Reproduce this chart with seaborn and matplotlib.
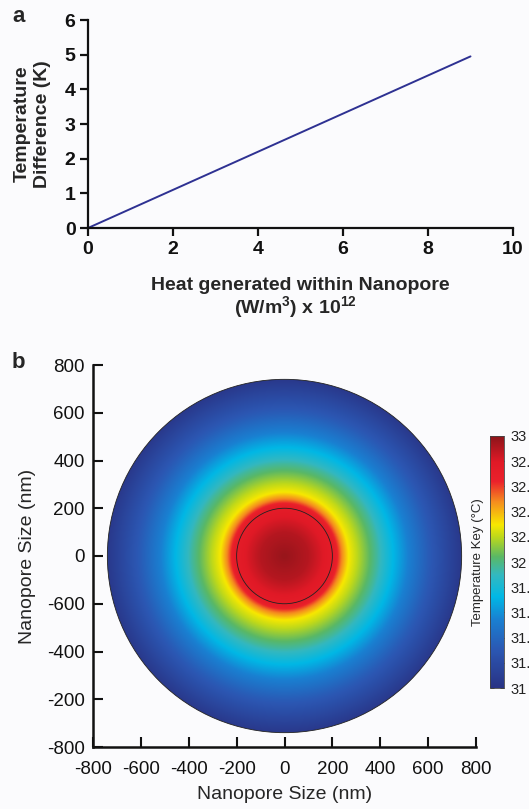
import numpy as np
import matplotlib
matplotlib.use("Agg")
import matplotlib.pyplot as plt
import seaborn as sns
from matplotlib.colors import LinearSegmentedColormap
from matplotlib.patches import Circle

sns.set_theme(style="ticks")
plt.rcParams["font.family"] = ["Liberation Sans", "DejaVu Sans"]
plt.rcParams["mathtext.fontset"] = "custom"
plt.rcParams["mathtext.bf"] = "Liberation Sans:bold"
plt.rcParams["mathtext.rm"] = "Liberation Sans"

# panel a: heat vs temperature difference
HEAT = [0, 1, 2, 3, 4, 5, 6, 7, 8, 9]
TEMP_DIFF = [0, 0.55, 1.1, 1.65, 2.2, 2.75, 3.3, 3.85, 4.4, 4.95]

# panel b: radial temperature profile
RADIUS_NM = [0, 100, 212, 238, 268, 320, 388, 455, 515, 600, 740]
TEMP_C = [32.97, 32.9, 32.72, 32.5, 32.3, 32.15, 31.95, 31.72, 31.55, 31.34, 31.05]
OUTER_R = 740
INNER_R = 200

B_TICKS = [-800, -600, -400, -200, 0, 200, 400, 600, 800]
B_XLABELS = ["-800", "-600", "-400", "-200", "0", "200", "400", "600", "800"]
B_YLABELS = ["-800", "-200", "-400", "-600", "0", "200", "400", "600", "800"]
CB_TICKS = [31, 31.2, 31.4, 31.6, 31.8, 32, 32.2, 32.4, 32.6, 32.8, 33]
CB_LABELS = ["31", "31.2", "31.4", "31.6", "31.8", "32", "32.2", "32.4", "32.6", "32.8", "33"]

key_cmap = LinearSegmentedColormap.from_list("key", [
    (0.00, (0.16, 0.20, 0.52)),
    (0.15, (0.17, 0.34, 0.70)),
    (0.27, (0.10, 0.50, 0.82)),
    (0.36, (0.00, 0.72, 0.90)),
    (0.45, (0.20, 0.72, 0.75)),
    (0.52, (0.35, 0.72, 0.40)),
    (0.60, (0.75, 0.85, 0.10)),
    (0.65, (0.97, 0.91, 0.00)),
    (0.74, (0.96, 0.55, 0.12)),
    (0.82, (0.92, 0.13, 0.17)),
    (0.90, (0.88, 0.10, 0.15)),
    (1.00, (0.55, 0.08, 0.10)),
])

bg = "#fbfbfd"
fig = plt.figure(figsize=(5.29, 8.09), dpi=100, facecolor=bg)

# ---- panel a ----
ax1 = fig.add_axes([88 / 529, 1 - 228 / 809, 425 / 529, 208 / 809], facecolor=bg)
sns.lineplot(x=HEAT, y=TEMP_DIFF, ax=ax1, color="#2e3192", linewidth=1.4)
ax1.set_xlim(0, 10)
ax1.set_ylim(0, 6)
ax1.set_xticks([0, 2, 4, 6, 8, 10])
ax1.set_yticks([0, 1, 2, 3, 4, 5, 6])
sns.despine(ax=ax1)
for s in ["left", "bottom"]:
    ax1.spines[s].set_linewidth(1.6)
    ax1.spines[s].set_color("#111111")
ax1.tick_params(direction="out", length=6, width=1.6, labelsize=14, pad=3, colors="#111111")
for lab in ax1.get_xticklabels() + ax1.get_yticklabels():
    lab.set_fontweight("bold")
ax1.set_xlabel("Heat generated within Nanopore", fontsize=14, fontweight="bold", labelpad=14)
fig.text(0.5 * (88 + 513) / 529 - 0.01, 1 - 308 / 809, r"(W/m$^\mathbf{3}$) x 10$^\mathbf{12}$",
         fontsize=14, fontweight="bold", ha="center", va="center")
ax1.set_ylabel("Temperature\nDifference (K)", fontsize=14, fontweight="bold", labelpad=10,
               linespacing=1.25)
fig.text(12 / 529, 1 - 17 / 809, "a", fontsize=16, fontweight="bold", ha="left", va="center")

# ---- panel b ----
ax2 = fig.add_axes([93 / 529, 1 - 747 / 809, 383 / 529, 382 / 809], facecolor=bg)
grid = np.linspace(-800, 800, 801)
gx, gy = np.meshgrid(grid, grid)
rr = np.sqrt(gx ** 2 + gy ** 2)
field = np.interp(rr, RADIUS_NM, TEMP_C)
field = np.ma.masked_where(rr > OUTER_R + 4, field)
im = ax2.imshow(field, extent=(-800, 800, -800, 800), origin="lower", cmap=key_cmap,
                vmin=31, vmax=33, interpolation="bilinear")
clip = Circle((0, 0), OUTER_R, transform=ax2.transData, facecolor="none", edgecolor="none")
ax2.add_patch(clip)
im.set_clip_path(clip)
ax2.add_patch(Circle((0, 0), OUTER_R, facecolor="none", edgecolor="#222222", linewidth=0.6))
ax2.add_patch(Circle((0, 0), INNER_R, facecolor="none", edgecolor="#222222", linewidth=0.6))
ax2.set_xlim(-800, 800)
ax2.set_ylim(-800, 800)
ax2.set_aspect("auto")
ax2.set_xticks(B_TICKS)
ax2.set_xticklabels(B_XLABELS)
ax2.set_yticks(B_TICKS)
ax2.set_yticklabels(B_YLABELS)
sns.despine(ax=ax2)
for s in ["left", "bottom"]:
    ax2.spines[s].set_linewidth(1.8)
    ax2.spines[s].set_color("#111111")
ax2.tick_params(direction="in", length=7, width=1.5, labelsize=13.5, pad=10, colors="#111111")
ax2.tick_params(axis="y", pad=6)
ax2.set_xlabel("Nanopore Size (nm)", fontsize=14, labelpad=6)
ax2.set_ylabel("Nanopore Size (nm)", fontsize=14, labelpad=8)
fig.text(12 / 529, 1 - 362 / 809, "b", fontsize=16, fontweight="bold", ha="left", va="center")

# colour key
cax = fig.add_axes([490 / 529, 1 - 688 / 809, 14 / 529, 252 / 809])
cb = fig.colorbar(im, cax=cax)
cb.set_ticks(CB_TICKS)
cb.set_ticklabels(CB_LABELS)
cb.outline.set_linewidth(0.6)
cb.outline.set_edgecolor("#444444")
cax.tick_params(direction="in", length=3, width=0.6, labelsize=10.5, pad=5, right=True, left=True,
                colors="#222222")
cax.yaxis.set_label_position("left")
cax.set_ylabel("Temperature Key (\u00b0C)", fontsize=9.5, labelpad=4)

fig.savefig("out.png", dpi=100, facecolor=bg)
